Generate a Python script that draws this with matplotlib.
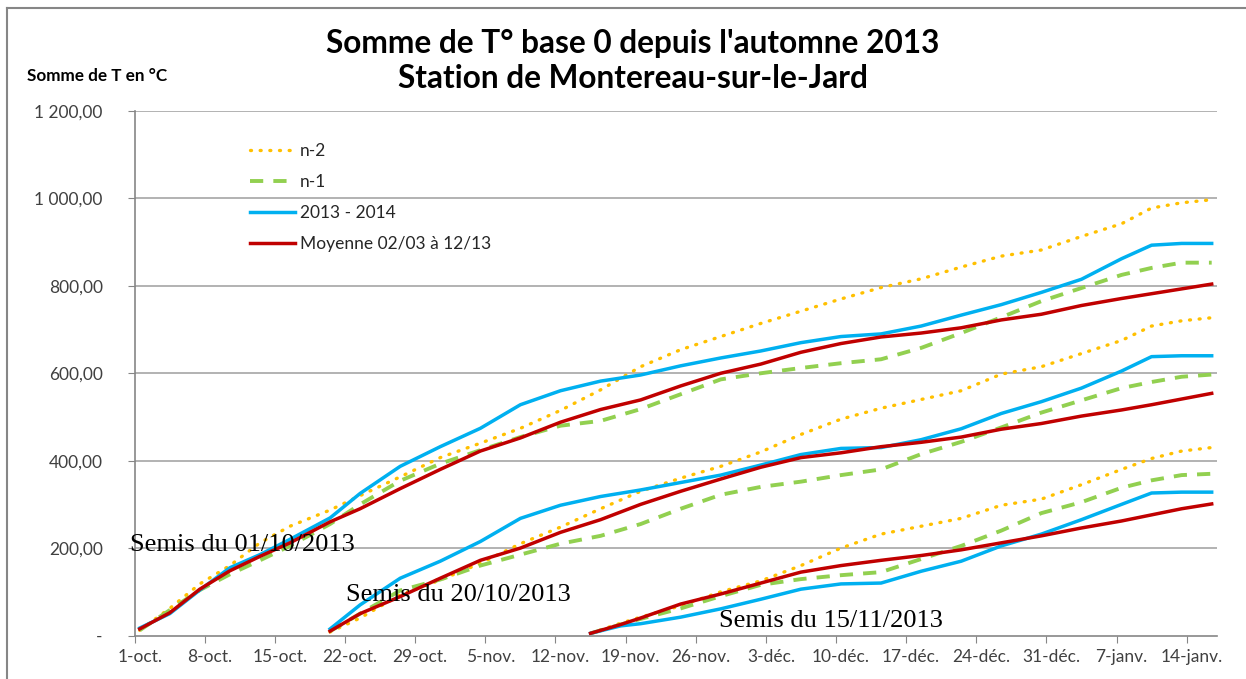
import numpy as np
import matplotlib
matplotlib.use("Agg")
import matplotlib.pyplot as plt
from matplotlib.lines import Line2D

# jours depuis le 1er octobre 2013
jours_s1 = [0, 3, 6, 9, 12, 15, 19, 22, 26, 30, 34, 38, 42, 46, 50, 54, 58, 62,
            66, 70, 74, 78, 82, 86, 90, 94, 98, 101, 104, 107]
jours_s2 = jours_s1[6:]
jours_s3 = [45, 48] + jours_s1[14:]

# semis du 01/10/2013
n2_s1 = [12, 62, 118, 160, 212, 250, 287, 320, 363, 407, 440, 474, 515, 562, 615,
         654, 684, 714, 742, 770, 796, 816, 843, 868, 882, 913, 942, 978, 990, 997]
n1_s1 = [12, 58, 104, 140, 172, 205, 255, 300, 354, 393, 424, 454, 480, 491, 518,
         552, 586, 600, 612, 623, 632, 658, 692, 728, 765, 795, 825, 841, 853, 853]
an_s1 = [17, 50, 104, 155, 185, 220, 269, 325, 387, 432, 474, 528, 560, 582, 596,
         617, 635, 651, 670, 684, 690, 708, 733, 757, 785, 815, 862, 893, 897, 897]
moy_s1 = [15, 52, 106, 148, 181, 212, 260, 290, 336, 380, 422, 452, 488, 517, 539,
          571, 600, 621, 648, 668, 683, 692, 704, 722, 735, 755, 771, 782, 793, 804]

# semis du 20/10/2013
n2_s2 = [8, 40, 93, 127, 165, 210, 248, 290, 330, 360, 387, 420, 460, 495, 520,
         540, 560, 598, 615, 645, 675, 708, 720, 727]
n1_s2 = [10, 50, 103, 128, 160, 185, 210, 228, 255, 290, 322, 340, 352, 367, 380,
         415, 443, 476, 510, 538, 566, 580, 592, 597]
an_s2 = [15, 70, 131, 170, 215, 268, 298, 318, 333, 350, 367, 390, 414, 428, 430,
         448, 473, 508, 535, 566, 605, 638, 640, 640]
moy_s2 = [10, 50, 89, 131, 172, 200, 236, 265, 300, 330, 358, 385, 407, 418, 432,
          442, 454, 472, 485, 502, 516, 528, 541, 554]

# semis du 15/11/2013
n2_s3 = [5, 28, 42, 68, 100, 125, 160, 200, 232, 250, 268, 298, 312, 345, 380,
         405, 422, 430]
n1_s3 = [5, 25, 38, 62, 90, 116, 129, 138, 145, 175, 205, 240, 280, 305, 338,
         355, 367, 370]
an_s3 = [5, 22, 27, 42, 61, 83, 106, 118, 120, 147, 170, 205, 232, 265, 300,
         326, 328, 328]
moy_s3 = [5, 25, 40, 72, 95, 120, 145, 160, 172, 183, 196, 212, 228, 246, 262,
          276, 290, 301]

tick_labels = ['1-oct.', '8-oct.', '15-oct.', '22-oct.', '29-oct.', '5-nov.',
               '12-nov.', '19-nov.', '26-nov.', '3-déc.', '10-déc.', '17-déc.',
               '24-déc.', '31-déc.', '7-janv.', '14-janv.']
semis_labels = ['Semis du 01/10/2013', 'Semis du 20/10/2013', 'Semis du 15/11/2013']
legend_labels = ['n-2', 'n-1', '2013 - 2014', 'Moyenne 02/03 à 12/13']

plt.rcParams['font.family'] = ['Lato', 'DejaVu Sans']

fig = plt.figure(figsize=(12.46, 6.79), dpi=100)
W, H = 1246, 679
ax = fig.add_axes([134.7 / W, 43.5 / H, 1082 / W, 524.5 / H])

styles = [
    dict(color='#FFC000', lw=2.4, linestyle=(0, (0.3, 2.6)), dash_capstyle='round'),
    dict(color='#92D050', lw=2.8, linestyle=(0, (3.4, 2.6))),
    dict(color='#00B0F0', lw=2.5, linestyle='-'),
    dict(color='#C00000', lw=2.5, linestyle='-'),
]

groups = [
    (jours_s1, [n2_s1, n1_s1, an_s1, moy_s1]),
    (jours_s2, [n2_s2, n1_s2, an_s2, moy_s2]),
    (jours_s3, [n2_s3, n1_s3, an_s3, moy_s3]),
]
for jours, series in groups:
    for vals, st in zip(series, styles):
        ax.plot(jours, vals, solid_joinstyle='round', **st)

ax.set_xlim(-0.5, 107.5)
ax.set_ylim(0, 1200)

# ticks between categories, labels in the middle
ax.set_xticks(np.arange(-0.5, 108, 7))
ax.set_xticklabels([])
ax.set_xticks(np.arange(0, 106, 7), minor=True)
ax.set_xticklabels(tick_labels, minor=True)
ax.tick_params(axis='x', which='major', direction='out', length=5, color='#868686')
ax.tick_params(axis='x', which='minor', length=0, pad=10, labelsize=12.5,
               labelcolor='#404040')

yt = np.arange(0, 1201, 200)
ax.set_yticks(yt)
ylabs = ['-'] + [f'{v:,.2f}'.replace(',', ' ').replace('.', ',') for v in yt[1:]]
ax.set_yticklabels(ylabs)
ax.tick_params(axis='y', direction='out', length=5, color='#868686', pad=18,
               labelsize=12.5, labelcolor='#404040')

for v in yt[1:]:
    ax.axhline(v, color='#A6A6A6', lw=1.2, zorder=0)

for s in ['top', 'right']:
    ax.spines[s].set_visible(False)
for s in ['left', 'bottom']:
    ax.spines[s].set_color('#868686')
    ax.spines[s].set_linewidth(1.2)

handles = [Line2D([], [], **st) for st in styles]
ax.legend(handles, legend_labels, loc='upper left', bbox_to_anchor=(0.092, 0.968),
          frameon=False, fontsize=12.5, handlelength=2.6, handletextpad=0.3,
          labelspacing=0.85, labelcolor='#262626')

fig.text(633 / W, 1 - 43 / H, "Somme de T° base 0 depuis l'automne 2013",
         ha='center', va='center', fontsize=22.8, fontweight='bold')
fig.text(633 / W, 1 - 79 / H, "Station de Montereau-sur-le-Jard",
         ha='center', va='center', fontsize=22.8, fontweight='bold')
fig.text(27 / W, 1 - 76 / H, "Somme de T en °C", ha='left', va='center',
         fontsize=12.3, fontweight='bold')

semis_pos = [(-0.97, 207), (20.6, 93), (57.8, 33)]
for lab, (x, y) in zip(semis_labels, semis_pos):
    ax.text(x, y, lab, ha='left', va='center', fontsize=19,
            family='Liberation Serif', clip_on=False)

# cadre du graphique
fig.add_artist(Line2D([7 / W, 7 / W], [0, 1 - 8 / H], color='#868686', lw=1.5))
fig.add_artist(Line2D([7 / W, 1], [1 - 8 / H, 1 - 8 / H], color='#868686', lw=1.5))

fig.savefig('out.png', dpi=100)
